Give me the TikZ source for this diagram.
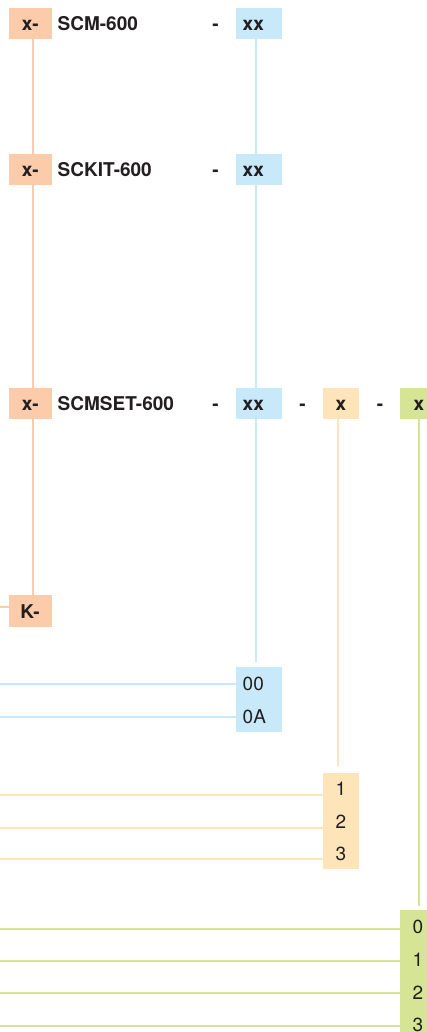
\documentclass[tikz,border=0pt]{standalone}
\usepackage{fontspec}
\setmainfont{TeX Gyre Heros}
\definecolor{ofill}{HTML}{FCCBAA}
\definecolor{bfill}{HTML}{C7E9FA}
\definecolor{yfill}{HTML}{FEE5B9}
\definecolor{gfill}{HTML}{D6E496}
\definecolor{ink}{HTML}{231F20}
\begin{document}
\begin{tikzpicture}[x=1pt,y=-1pt,
  boxbase/.style={inner sep=0pt, outer sep=0pt, draw=none},
  obox/.style={boxbase, fill=ofill, minimum width=43pt, minimum height=31pt, anchor=west},
  bbox/.style={boxbase, fill=bfill, minimum width=46pt, minimum height=31pt, anchor=west},
  ybox/.style={boxbase, fill=yfill, minimum width=36pt, minimum height=31pt, anchor=west},
  gbox/.style={boxbase, fill=gfill, minimum width=30pt, minimum height=31pt, anchor=west},
  bt/.style={inner sep=0pt, text=ink, font=\bfseries\fontsize{19}{19}\selectfont},
  rt/.style={inner sep=0pt, text=ink, font=\fontsize{19}{19}\selectfont},
  oline/.style={draw=ofill, line width=2pt},
  bline/.style={draw=bfill, line width=2pt},
  yline/.style={draw=yfill, line width=2pt},
  gline/.style={draw=gfill, line width=2pt}]
\useasboundingbox (0,0) rectangle (426,1032);

% boxes
\node[obox] (o1) at (9,23.2) {};
\node[obox] (o2) at (9,169.2) {};
\node[obox] (o3) at (9,403.2) {};
\node[obox, minimum height=32pt] (oK) at (9,610.8) {};
\node[bbox] (b1) at (236,23.2) {};
\node[bbox] (b2) at (236,169.2) {};
\node[bbox] (b3) at (236,403.2) {};
\node[ybox] (y1) at (323,403.2) {};
\node[gbox] (g1) at (400,403.2) {};
\node[boxbase, fill=bfill, minimum width=46pt, minimum height=65pt, anchor=north west] (b4) at (236,667) {};
\node[boxbase, fill=yfill, minimum width=36pt, minimum height=96pt, anchor=north west] (y2) at (323,773) {};
\node[boxbase, fill=gfill, minimum width=30pt, minimum height=130pt, anchor=north west] (g2) at (400,910) {};

% row 1
\node[bt, anchor=base] (t1a) at (30.3,30.7) {x-};
\node[bt, anchor=base west] (t1b) at (57.5,30.7) {SCM-600};
\node[bt, anchor=base] (t1c) at (215.5,30.7) {-};
\node[bt, anchor=base west] (t1d) at (242.5,30.7) {xx};
% row 2
\node[bt, anchor=base] (t2a) at (30.3,176.7) {x-};
\node[bt, anchor=base west] (t2b) at (57.5,176.7) {SCKIT-600};
\node[bt, anchor=base] (t2c) at (215.5,176.7) {-};
\node[bt, anchor=base west] (t2d) at (242.5,176.7) {xx};
% row 3
\node[bt, anchor=base] (t3a) at (30.3,410.7) {x-};
\node[bt, anchor=base west] (t3b) at (57.5,410.7) {SCMSET-600};
\node[bt, anchor=base] (t3c) at (215.5,410.7) {-};
\node[bt, anchor=base west] (t3d) at (242.5,410.7) {xx};
\node[bt, anchor=base] (t3e) at (302.5,410.7) {-};
\node[bt, anchor=base] (t3f) at (341,410.7) {x};
\node[bt, anchor=base] (t3g) at (380,410.7) {-};
\node[bt, anchor=base west] (t3h) at (413.5,410.7) {x};
% K
\node[bt, anchor=base] (tK) at (30,618.3) {K-};

% option labels
\node[rt, anchor=west] (l00) at (242.5,683.5) {00};
\node[rt, anchor=west] (l0A) at (242.5,716.3) {0A};
\node[rt] (ly1) at (341,789.2) {1};
\node[rt] (ly2) at (341,821.7) {2};
\node[rt] (ly3) at (341,853.7) {3};
\node[rt, anchor=west] (lg0) at (412.5,927) {0};
\node[rt, anchor=west] (lg1) at (412.5,960) {1};
\node[rt, anchor=west] (lg2) at (412.5,993) {2};
\node[rt, anchor=west] (lg3) at (412.5,1025) {3};

% reference coordinates
\coordinate (ox) at (32.7,0);
\coordinate (bend) at (256.2,662);
\coordinate (yend) at (337.8,766);
\coordinate (gend) at (418.8,906);
\coordinate (kl) at (0,607);
\coordinate (bl1) at (0,684);
\coordinate (bl2) at (0,717);
\coordinate (yl1) at (0,795);
\coordinate (yl2) at (0,828);
\coordinate (yl3) at (0,859);
\coordinate (gl0) at (0,929);
\coordinate (gl1) at (0,961);
\coordinate (gl2) at (0,993);
\coordinate (gl3) at (0,1026);

% vertical connectors
\draw[oline] (o1.south -| ox) -- (o2.north -| ox);
\draw[oline] (o2.south -| ox) -- (o3.north -| ox);
\draw[oline] (o3.south -| ox) -- (oK.north -| ox);
\draw[bline] (b1.south -| bend) -- (b2.north -| bend);
\draw[bline] (b2.south -| bend) -- (b3.north -| bend);
\draw[bline] (b3.south -| bend) -- (bend);
\draw[yline] (y1.south -| yend) -- (yend);
\draw[gline] (g1.south -| gend) -- (gend);

% horizontal connectors
\draw[oline] (kl) -- (kl -| oK.west);
\draw[bline] (bl1) -- (bl1 -| b4.west);
\draw[bline] (bl2) -- (bl2 -| b4.west);
\draw[yline] (yl1) -- (yl1 -| y2.west);
\draw[yline] (yl2) -- (yl2 -| y2.west);
\draw[yline] (yl3) -- (yl3 -| y2.west);
\draw[gline] (gl0) -- (gl0 -| g2.west);
\draw[gline] (gl1) -- (gl1 -| g2.west);
\draw[gline] (gl2) -- (gl2 -| g2.west);
\draw[gline] (gl3) -- (gl3 -| g2.west);
\end{tikzpicture}
\end{document}
